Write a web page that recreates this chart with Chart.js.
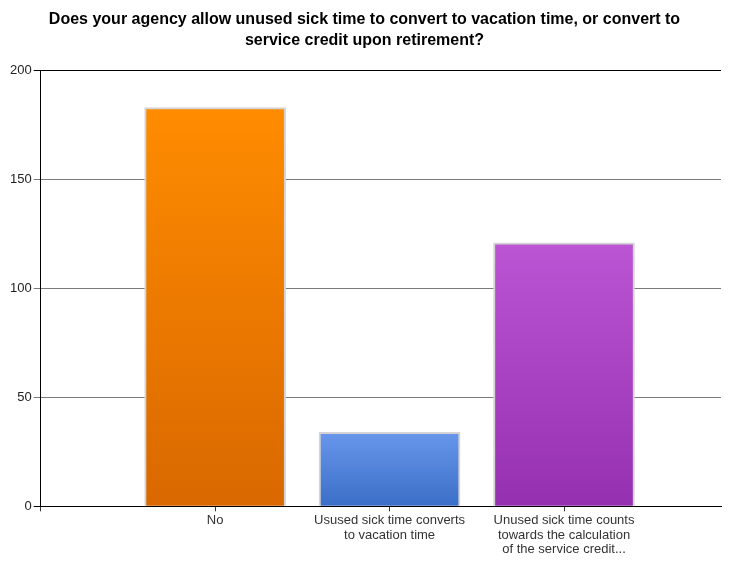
<!DOCTYPE html>
<html>
<head>
<meta charset="utf-8">
<script src="https://cdn.jsdelivr.net/npm/chart.js@4/dist/chart.umd.min.js"></script>
<style>
  body { margin: 0; background: #fff; }
  #wrap { width: 733px; height: 561px; position: relative; }
</style>
</head>
<body>
<div id="wrap"><canvas id="myChart"></canvas></div>
<script>
const answers = [
    'No',
    ['Usused sick time converts', 'to vacation time'],
    ['Unused sick time counts', 'towards the calculation', 'of the service credit...']
];
const responses = [183, 34, 121];
const yTicks = [0, 50, 100, 150, 200];

// top / bottom colour of each bar's gradient
const topColors = ['#ff8c00', '#6897ec', '#bb55d4'];
const bottomColors = ['#d96800', '#3b6ec6', '#9530b0'];

const points = responses.map((v, i) => ({ x: i + 1, y: v }));

function barFill(context) {
    const chart = context.chart;
    const i = context.dataIndex;
    if (!chart.chartArea || i === undefined) return topColors[i || 0];
    const yScale = chart.scales.y;
    const top = yScale.getPixelForValue(responses[i]);
    const bottom = yScale.getPixelForValue(0);
    const g = chart.ctx.createLinearGradient(0, top, 0, bottom);
    g.addColorStop(0, topColors[i]);
    g.addColorStop(1, bottomColors[i]);
    return g;
}

var ctx = document.getElementById('myChart').getContext('2d');
var myChart = new Chart(ctx, { //eslint-disable-line
    type: 'bar',
    data: {
        datasets: [
            {
                data: points,
                backgroundColor: barFill,
                borderColor: '#d4d4d4',
                borderWidth: { top: 2, left: 2, right: 2, bottom: 0 },
                borderSkipped: 'bottom',
                barThickness: 141
            }
        ]
    },
    options: {
        responsive: true,
        maintainAspectRatio: false,
        animation: false,
        layout: { padding: { top: 0, right: 12, left: 8, bottom: 2 } },
        plugins: {
            legend: { display: false },
            tooltip: { enabled: false },
            title: {
                display: true,
                text: [
                    'Does your agency allow unused sick time to convert to vacation time, or convert to',
                    'service credit upon retirement?'
                ],
                color: '#000',
                font: { family: 'Liberation Sans', size: 16, weight: 'bold', lineHeight: 1.3 },
                padding: { top: 9, bottom: 20 }
            }
        },
        scales: {
            x: {
                type: 'linear',
                min: 0,
                max: 3.9,
                offset: false,
                border: { color: '#000', width: 1 },
                grid: {
                    offset: false,
                    drawOnChartArea: false,
                    drawTicks: true,
                    tickLength: 5,
                    color: '#333'
                },
                ticks: {
                    stepSize: 1,
                    includeBounds: false,
                    autoSkip: false,
                    maxRotation: 0,
                    padding: 2,
                    color: '#333',
                    font: { family: 'Liberation Sans', size: 13, lineHeight: 1.12 },
                    callback: (value) => answers[value - 1] || ''
                }
            },
            y: {
                min: 0,
                max: 200,
                border: { color: '#000', width: 1 },
                afterBuildTicks: (axis) => { axis.ticks = yTicks.map(v => ({ value: v })); },
                grid: {
                    color: (c) => (c.tick && (c.tick.value === 200 || c.tick.value === 0)) ? '#000' : '#7a7a7a',
                    tickLength: 7
                },
                ticks: {
                    padding: 2,
                    color: '#222',
                    font: { family: 'Liberation Sans', size: 13 }
                }
            }
        }
    }
});
</script>
</body>
</html>
